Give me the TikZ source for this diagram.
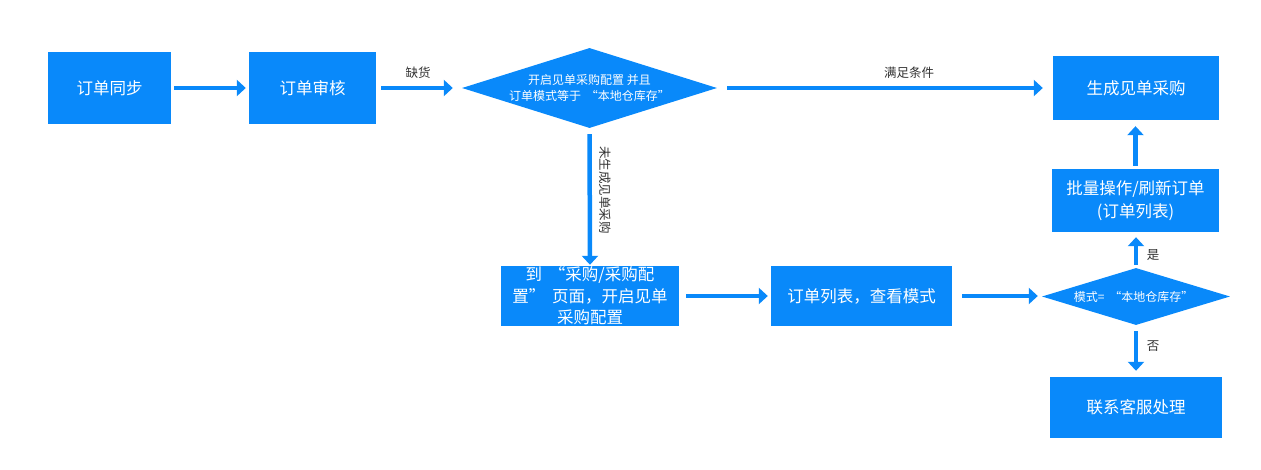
\documentclass[tikz,border=0pt]{standalone}
\usepackage{fontspec}
\setmainfont{Noto Sans CJK SC}
\newcommand{\myLq}{\hspace{0.4em}“}
\newcommand{\myRq}{”\hspace{0.4em}}
\usetikzlibrary{arrows.meta,shapes.geometric}
\definecolor{bblue}{RGB}{9,137,250}
\definecolor{lblgray}{RGB}{50,50,50}
\tikzset{
  box/.style={fill=bblue,draw=none,text=white,inner sep=0pt,align=center,
    font=\fontsize{16.5}{22}\selectfont},
  dia/.style={diamond,fill=bblue,draw=none,text=white,inner sep=0pt,align=center},
  arr/.style={draw=bblue,line width=4.5pt,-{Triangle[length=9pt,width=16pt]}},
  lbl/.style={text=lblgray,font=\fontsize{12.5}{15}\selectfont,inner sep=0pt}
}
\begin{document}
\begin{tikzpicture}[x=1pt,y=-1pt]
\useasboundingbox (0,0) rectangle (1261,470);
\node[box,minimum width=123pt,minimum height=72pt] (b1) at (109.5,88) {订单同步};
\node[box,minimum width=127pt,minimum height=72pt] (b2) at (312.5,88) {订单审核};
\node[dia,minimum width=255pt,minimum height=80pt,aspect=3.2,
  font=\fontsize{12}{16}\selectfont] (d1) at (589.5,88) {开启见单采购配置 并且\\订单模式等于\myLq 本地仓库存\myRq};
\node[box,minimum width=166pt,minimum height=64pt] (b4) at (1136,88) {生成见单采购};
\node[box,minimum width=167pt,minimum height=63pt,font=\fontsize{16.5}{23}\selectfont] (b5) at (1135.5,200.5) {批量操作/刷新订单\\(订单列表)};
\node[box,minimum width=178pt,minimum height=60pt,font=\fontsize{16.5}{21.5}\selectfont] (b3) at (590,296) {到\myLq 采购/采购配\\置\myRq 页面，开启见单\\采购配置};
\node[box,minimum width=181pt,minimum height=60pt] (b6) at (861.5,296) {订单列表，查看模式};
\node[dia,minimum width=188pt,minimum height=57pt,aspect=3.3,
  font=\fontsize{12}{16}\selectfont] (d2) at (1136,296.5) {模式=\myLq 本地仓库存\myRq};
\node[box,minimum width=172pt,minimum height=61pt] (b7) at (1136,407.5) {联系客服处理};

\draw[arr,shorten <=3pt,shorten >=3pt] (b1) -- (b2);
\draw[arr,shorten <=5pt,shorten >=9pt] (b2) -- (d1);
\draw[arr,shorten <=10pt,shorten >=10pt] (d1) -- (b4);
\draw[arr,shorten <=6pt,shorten >=1pt] (d1.south) -- (b3.north);
\draw[arr,shorten <=7pt,shorten >=3pt] (b3) -- (b6);
\draw[arr,shorten <=10pt,shorten >=4pt] (b6.east) -- (b6.east -| d2.west);
\draw[arr,shorten <=3pt,shorten >=5pt] (d2.north) -- (d2.north |- b5.south);
\draw[arr,shorten <=3pt,shorten >=6pt] (b5.north) -- (b5.north |- b4.south);
\draw[arr,shorten <=6pt,shorten >=6pt] (d2.south) -- (d2.south |- b7.north);

\node[lbl] (l1) at (418,73) {缺货};
\node[lbl] (l2) at (909,73) {满足条件};
\node[lbl,rotate=-90] (l3) at (605,190) {未生成见单采购};
\node[lbl] (l4) at (1153,255) {是};
\node[lbl] (l5) at (1153,346) {否};
\end{tikzpicture}
\end{document}
